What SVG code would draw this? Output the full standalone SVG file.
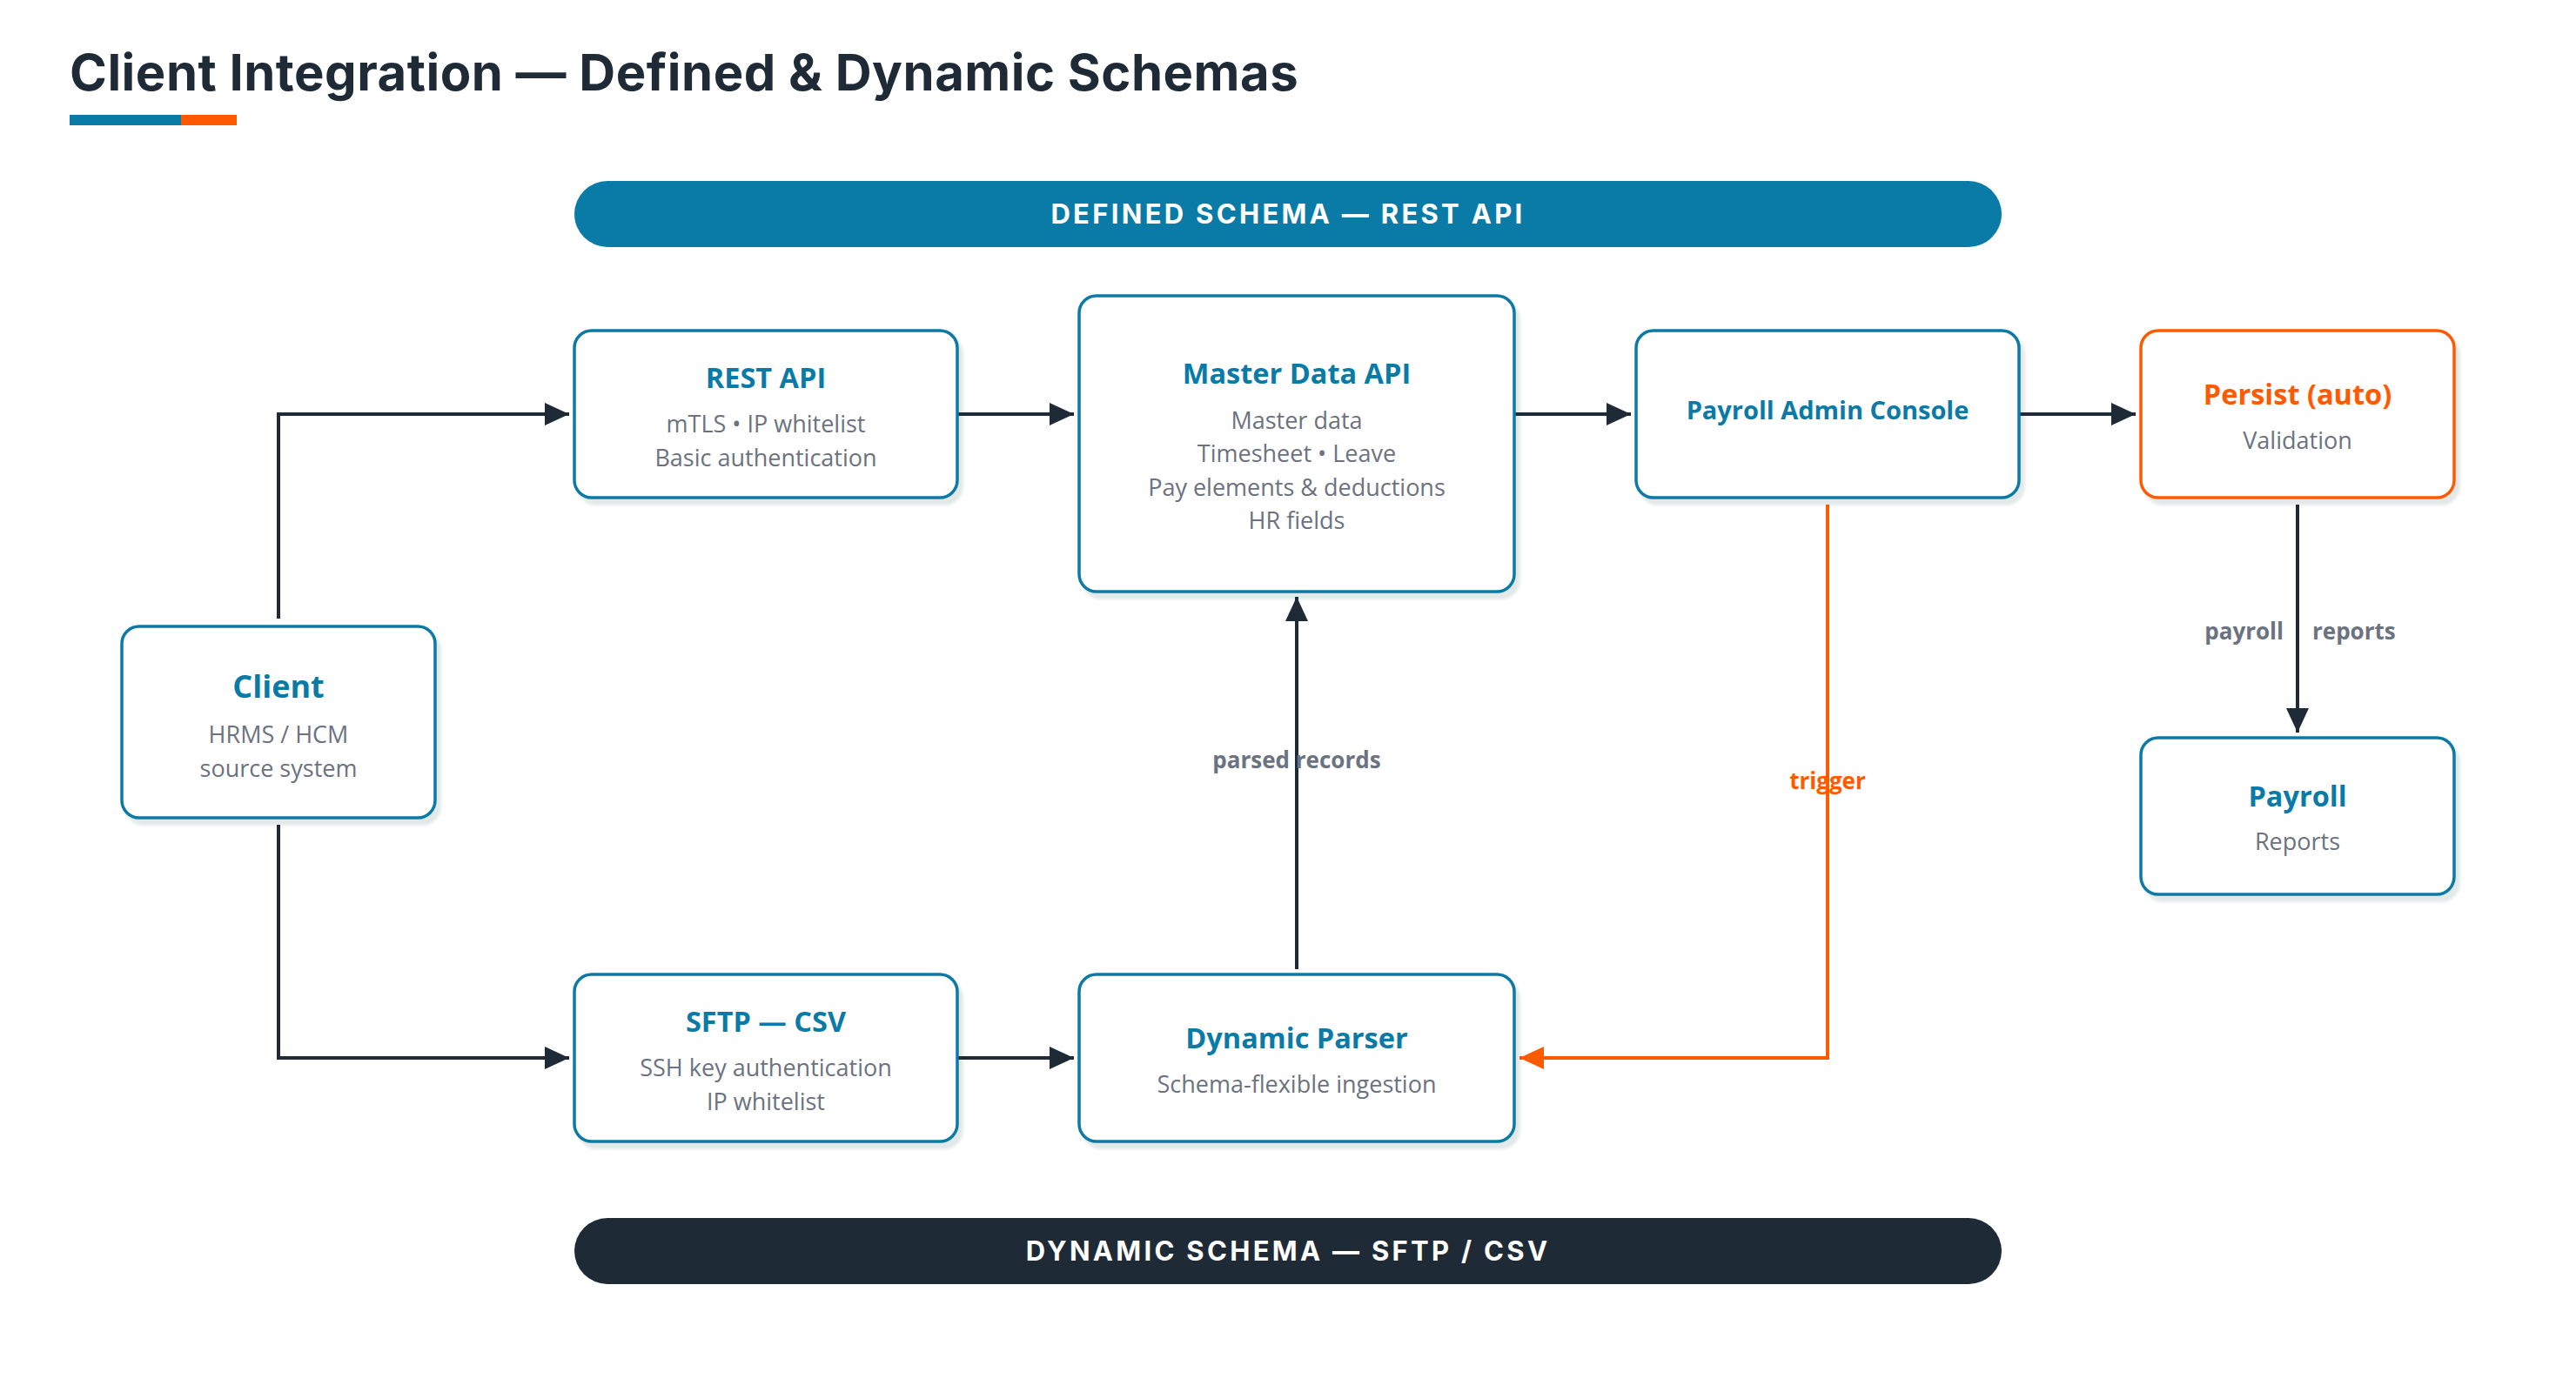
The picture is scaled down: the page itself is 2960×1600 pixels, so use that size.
<svg xmlns="http://www.w3.org/2000/svg" width="2960" height="1600" viewBox="0 0 2960 1600">
<defs>
<filter id="sh" x="-10%" y="-10%" width="130%" height="130%">
<feDropShadow dx="5" dy="7" stdDeviation="1.5" flood-color="#1F2937" flood-opacity="0.11"/>
</filter>
<marker id="ad" viewBox="0 0 28 26" refX="28" refY="13" markerWidth="28" markerHeight="26" markerUnits="userSpaceOnUse" orient="auto">
<path d="M0,0 L28,13 L0,26 Z" fill="#1F2A37"/>
</marker>
<marker id="ao" viewBox="0 0 28 26" refX="28" refY="13" markerWidth="28" markerHeight="26" markerUnits="userSpaceOnUse" orient="auto">
<path d="M0,0 L28,13 L0,26 Z" fill="#FF5A00"/>
</marker>
</defs>
<style>
.box{fill:#FFFFFF;stroke:#0A7AA6;stroke-width:3.5;filter:url(#sh)}
.obox{fill:#FFFFFF;stroke:#FF5A00;stroke-width:3.5;filter:url(#sh)}
.t{font-family:"Open Sans","Noto Sans",sans-serif;font-weight:700;font-size:32.5px;fill:#0A7AA6;text-anchor:middle}
.ot{fill:#FF5A00}
.s{font-family:"Open Sans","Noto Sans",sans-serif;font-weight:400;font-size:27px;fill:#6B7280;text-anchor:middle}
.c{fill:none;stroke:#1F2A37;stroke-width:4;marker-end:url(#ad)}
.co{fill:none;stroke:#FF5A00;stroke-width:4;marker-end:url(#ao)}
.lbl{font-family:"Open Sans","Noto Sans",sans-serif;font-weight:700;font-size:26px;fill:#6B7280;text-anchor:middle}
.band{font-family:"Inter","Open Sans",sans-serif;font-weight:700;font-size:31px;fill:#FFFFFF;text-anchor:middle;letter-spacing:3.3px}
</style>
<rect width="2960" height="1600" fill="#FFFFFF"/>
<g id="title">
<text x="80" y="104" font-family="Inter,'Open Sans',sans-serif" font-weight="700" font-size="58" fill="#1F2A37" letter-spacing="0.5">Client Integration — Defined &amp; Dynamic Schemas</text>
<rect x="80" y="132" width="128" height="12" fill="#0A7AA6"/>
<rect x="208" y="132" width="64" height="12" fill="#FF5A00"/>
</g>
<g id="band-defined">
<rect x="660" y="208" width="1640" height="76" rx="38" fill="#0A7AA6"/>
<text class="band" x="1480" y="257">DEFINED SCHEMA — REST API</text>
</g>
<g id="band-dynamic">
<rect x="660" y="1400" width="1640" height="76" rx="38" fill="#1F2A37"/>
<text class="band" x="1480" y="1449">DYNAMIC SCHEMA — SFTP / CSV</text>
</g>
<g id="connectors">
<path class="c" d="M320,711 V476 H654"/>
<path class="c" d="M320,948 V1216 H654"/>
<path class="c" d="M1100,476 H1234"/>
<path class="c" d="M1100,1216 H1234"/>
<path class="c" d="M1740,476 H1874"/>
<path class="c" d="M2320,476 H2454"/>
<path class="c" d="M2640,580 V842"/>
<path class="c" d="M1490,1114 V686"/>
<path class="co" d="M2100,580 V1216 H1746"/>
<text class="lbl" x="1490" y="883">parsed records</text>
<text class="lbl" x="2100" y="907" style="fill:#FF5A00">trigger</text>
<text class="lbl" y="735"><tspan x="2624" text-anchor="end">payroll</tspan><tspan x="2657" text-anchor="start">reports</tspan></text>
</g>
<g id="node-client">
<rect class="box" x="140" y="720" width="360" height="220" rx="20"/>
<text class="t" x="320" y="802" style="font-size:36px">Client</text>
<text class="s" x="320" y="854">HRMS / HCM</text>
<text class="s" x="320" y="893">source system</text>
</g>
<g id="node-rest">
<rect class="box" x="660" y="380" width="440" height="192" rx="20"/>
<text class="t" x="880" y="446">REST API</text>
<text class="s" x="880" y="497">mTLS • IP whitelist</text>
<text class="s" x="880" y="536">Basic authentication</text>
</g>
<g id="node-master">
<rect class="box" x="1240" y="340" width="500" height="340" rx="20"/>
<text class="t" x="1490" y="441">Master Data API</text>
<text class="s" x="1490" y="493">Master data</text>
<text class="s" x="1490" y="531">Timesheet • Leave</text>
<text class="s" x="1490" y="570">Pay elements &amp; deductions</text>
<text class="s" x="1490" y="608">HR fields</text>
</g>
<g id="node-console">
<rect class="box" x="1880" y="380" width="440" height="192" rx="20"/>
<text class="t" x="2100" y="482" style="font-size:29px">Payroll Admin Console</text>
</g>
<g id="node-persist">
<rect class="obox" x="2460" y="380" width="360" height="192" rx="20"/>
<text class="t ot" x="2640" y="465">Persist (auto)</text>
<text class="s" x="2640" y="516">Validation</text>
</g>
<g id="node-payroll">
<rect class="box" x="2460" y="848" width="360" height="180" rx="20"/>
<text class="t" x="2640" y="927">Payroll</text>
<text class="s" x="2640" y="977">Reports</text>
</g>
<g id="node-sftp">
<rect class="box" x="660" y="1120" width="440" height="192" rx="20"/>
<text class="t" x="880" y="1186">SFTP — CSV</text>
<text class="s" x="880" y="1237">SSH key authentication</text>
<text class="s" x="880" y="1276">IP whitelist</text>
</g>
<g id="node-parser">
<rect class="box" x="1240" y="1120" width="500" height="192" rx="20"/>
<text class="t" x="1490" y="1205">Dynamic Parser</text>
<text class="s" x="1490" y="1256">Schema-flexible ingestion</text>
</g>
</svg>
